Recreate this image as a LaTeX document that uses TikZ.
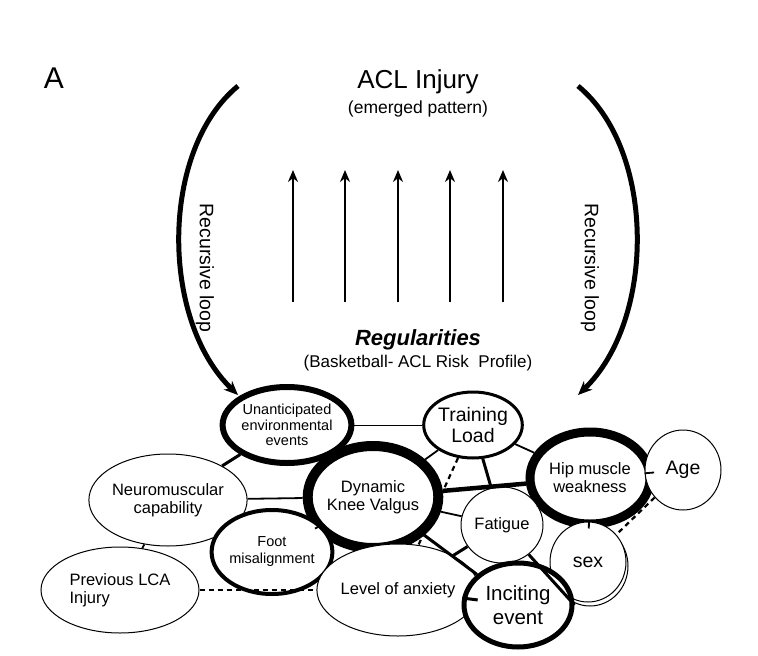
\documentclass[tikz,border=0pt]{standalone}
\usepackage{fontspec}
\setmainfont{Liberation Sans}
\usetikzlibrary{shapes.geometric,arrows.meta}
\begin{document}
\begin{tikzpicture}[x=1pt,y=-1pt,
  nd/.style={ellipse,draw,fill=white,inner sep=0pt,align=center,font=\fontsize{16.5}{18}\selectfont},
  e1/.style={line width=0.8pt},
  e2/.style={line width=1.8pt},
  e3/.style={line width=3pt},
  e4/.style={line width=4.5pt},
  ds/.style={line width=2.2pt,dash pattern=on 5pt off 4pt},
  up/.style={line width=2pt,-{Stealth[length=12pt,width=10pt]}},
  loop/.style={line width=5pt,-{Stealth[length=14pt,width=12pt]}}]
\useasboundingbox (0,0) rectangle (758,656);
\node[font=\fontsize{30}{32}\selectfont] (A) at (54,78) {A};
\node[font=\fontsize{26}{28}\selectfont] (acl) at (418,82) {ACL Injury};
\node[font=\fontsize{17.5}{19}\selectfont] (em) at (418,109) {(emerged pattern)};
\foreach \x [count=\i] in {293,345,398,450,503}{
  \coordinate (b\i) at (\x,302); \coordinate (t\i) at (\x,170);
  \draw[up] (b\i) -- (t\i);}
\node[font=\fontsize{22}{24}\selectfont\bfseries\itshape] (reg) at (418,340) {Regularities};
\node[font=\fontsize{17}{19}\selectfont] (bk) at (418,363) {(Basketball- ACL Risk\ \ Profile)};
\coordinate (l1) at (238,86); \coordinate (l2) at (238,395);
\coordinate (r1) at (578,86); \coordinate (r2) at (578,395);
\draw[loop] (l1) .. controls (160,150) and (160,320) .. (l2);
\draw[loop] (r1) .. controls (656,150) and (656,320) .. (r2);
\node[rotate=-90,font=\fontsize{19.5}{21}\selectfont] (rl) at (205,268) {Recursive loop};
\node[rotate=-90,font=\fontsize{19.5}{21}\selectfont] (rr) at (590,268) {Recursive loop};
% nodes
\node[nd,line width=6pt,minimum width=122pt,minimum height=76pt,font=\fontsize{14.5}{15.5}\selectfont] (un) at (287,425) {Unanticipated\\environmental\\events};
\node[nd,line width=3pt,minimum width=92pt,minimum height=66pt,font=\fontsize{19.5}{21}\selectfont] (tl) at (473,425) {Training\\Load};
\node[nd,line width=9pt,minimum width=120pt,minimum height=92pt] (hip) at (590,478) {Hip muscle\\weakness};
\node[nd,line width=1pt,minimum width=76pt,minimum height=80pt,font=\fontsize{19.5}{21}\selectfont] (age) at (683,470) {Age};
\node[nd,line width=1pt,minimum width=134pt,minimum height=92pt] (neu) at (168,500) {Neuromuscular\\capability};
\node[nd,line width=10pt,minimum width=130pt,minimum height=102pt] (dkv) at (373,497) {Dynamic\\Knee Valgus};
\node[nd,line width=1pt,minimum width=82pt,minimum height=76pt] (fat) at (502,525) {Fatigue};
\node[nd,line width=1pt,minimum width=76pt,minimum height=80pt] (sexs) at (590,566) {};
\node[nd,line width=1pt,minimum width=76pt,minimum height=80pt,font=\fontsize{19.5}{21}\selectfont] (sex) at (588,562) {sex};
\node[nd,line width=4pt,minimum width=92pt,minimum height=84pt,font=\fontsize{14.5}{17}\selectfont] (foot) at (272,552) {Foot\\misalignment};
\node[nd,line width=1pt,minimum width=158pt,minimum height=86pt,align=left] (prev) at (120,590) {Previous LCA\\Injury};
\node[nd,line width=1pt,minimum width=144pt,minimum height=92pt] (anx) at (398,590) {Level of anxiety};
\node[nd,line width=5pt,minimum width=108pt,minimum height=84pt,font=\fontsize{20.5}{24}\selectfont] (inc) at (518,605) {Inciting\\event};
% edges
\draw[e1] (un) -- (tl);
\draw[e3] (un) -- (neu);
\draw[e2] (un) -- (dkv);
\draw[e2] (tl) -- (hip);
\draw[e2] (tl) -- (dkv);
\draw[e3] (tl) -- (fat);
\draw[ds] (tl) -- (anx);
\draw[e4] (dkv) -- (hip);
\draw[e2] (dkv) -- (neu);
\draw[e2] (dkv) -- (fat);
\draw[e2] (dkv) -- (foot);
\draw[e3] (dkv) -- (inc);
\draw[e1] (hip) -- (fat);
\draw[e2] (hip) -- (age);
\draw[e2] (hip) -- (sex);
\draw[ds] (age) -- (sex);
\draw[e3] (fat) -- (anx);
\draw[e3] (fat) -- (inc.east);
\draw[e3] (anx) -- (inc);
\draw[e2] (neu) -- (prev);
\draw[ds] (prev) -- (anx);
\end{tikzpicture}
\end{document}
